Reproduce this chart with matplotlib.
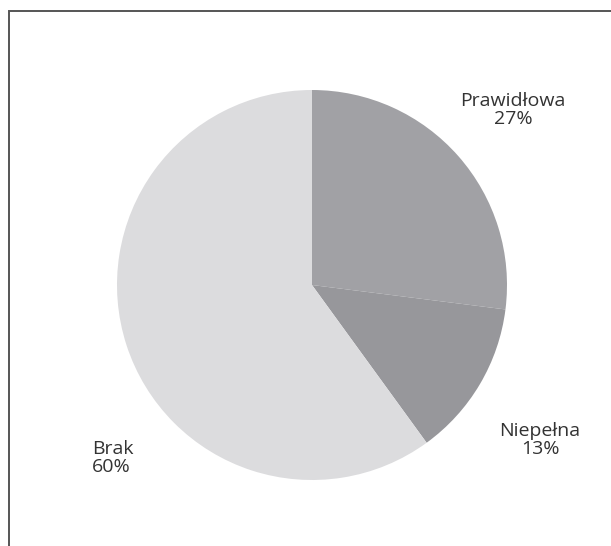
import matplotlib
matplotlib.use("Agg")
from matplotlib import pyplot as plt

categories = ["Prawidłowa", "Niepełna", "Brak"]
shares = [27, 13, 60]
colors = ["#a1a1a5", "#97979b", "#dcdcde"]

W, H = 611, 546
fig = plt.figure(figsize=(W / 100, H / 100), dpi=100)
ax = fig.add_axes([0, 0, 1, 1])

ax.pie(shares, colors=colors, startangle=90, counterclock=False,
       center=(312, H - 285), radius=195, frame=True,
       wedgeprops=dict(linewidth=0))
ax.set_xlim(0, W)
ax.set_ylim(0, H)
ax.set_aspect("equal")
ax.axis("off")

# ramka
ax.plot([8.5, 8.5, W], [0, H - 10.5, H - 10.5], color="#555555", lw=1.4,
        solid_capstyle="butt", solid_joinstyle="miter")

font = dict(family=["Open Sans", "DejaVu Sans"], fontsize=14, color="#333333",
            linespacing=1.05)
ax.text(513, H - 110, f"{categories[0]}\n{shares[0]}%", ha="center", va="center", **font)
ax.text(540, H - 440, f"{categories[1]}\n{shares[1]}%", ha="center", va="center", **font)
ax.text(92, H - 458, f"{categories[2]}\n{shares[2]}%", ha="left", va="center", **font)

fig.savefig("out.png", dpi=100)
